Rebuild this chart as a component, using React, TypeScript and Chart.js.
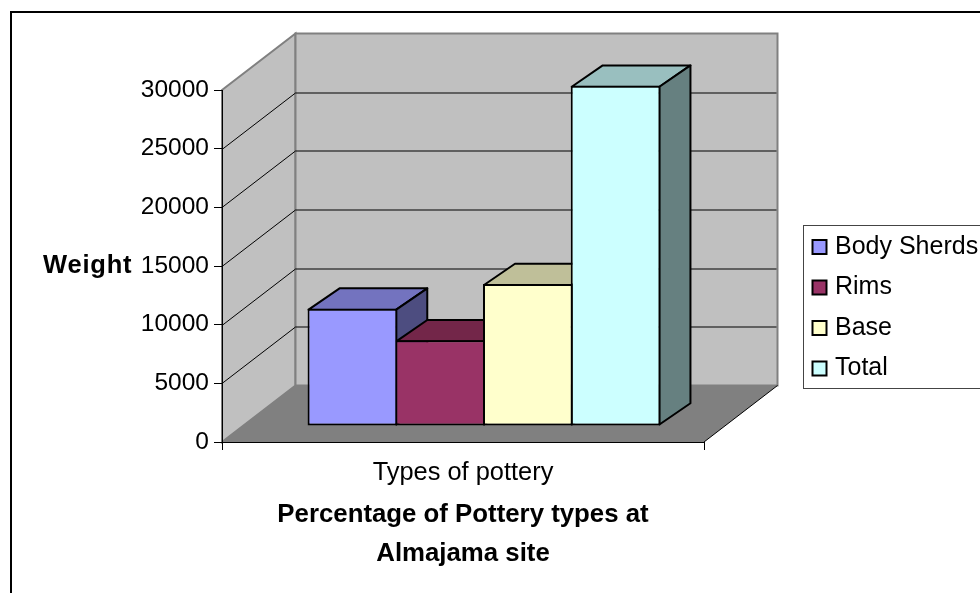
import React, { useEffect, useRef } from "react";
import { Chart, registerables } from "chart.js";

Chart.register(...registerables);

const categories = ["Types of pottery"];
const seriesNames = ["Body Sherds", "Rims", "Base", "Total"];
const bodySherds = [10000];
const rims = [7300];
const base = [12100];
const total = [29000];
const frontColors = ["#9999FF", "#993366", "#FFFFCC", "#CCFFFF"];
const topColors = ["#7373BF", "#732649", "#BFBF99", "#99BFBF"];
const sideColors = ["#4D4D80", "#4D1A33", "#808066", "#668080"];
const titleLines = ["Percentage of Pottery types at", "Almajama site"];
const yTitle = "Weight";

const FONT = "'Liberation Sans', Arial, sans-serif";
const WALL_DX = 73.5;
const WALL_DY = -56.5;
const BAR_DX = 21;
const BAR_DY = -16;
const DEPTH_DX = 31;
const DEPTH_DY = -21.3;

function poly(ctx: CanvasRenderingContext2D, pts: number[][]) {
  ctx.beginPath();
  pts.forEach((p, i) => (i ? ctx.lineTo(p[0], p[1]) : ctx.moveTo(p[0], p[1])));
  ctx.closePath();
}

const pottery3d = {
  id: "pottery3d",
  afterLayout(chart: any) {
    const l = chart.legend;
    l.left = 801;
    l.right = 980;
    l.top = 198;
    l.bottom = 417.5;
  },
  beforeDraw(chart: any) {
    const { ctx, chartArea: a } = chart;
    const yS = chart.scales.y;
    ctx.save();
    ctx.fillStyle = "#FFFFFF";
    ctx.fillRect(0, 0, chart.width, chart.height);
    ctx.strokeStyle = "#000000";
    ctx.lineWidth = 2;
    ctx.strokeRect(11, 12, 1200, 900);

    // walls and floor
    const L = a.left, R = a.right, T = a.top, B = a.bottom;
    ctx.fillStyle = "#C0C0C0";
    ctx.strokeStyle = "#808080";
    ctx.lineWidth = 2;
    poly(ctx, [[L, T], [L + WALL_DX, T + WALL_DY], [L + WALL_DX, B + WALL_DY], [L, B]]);
    ctx.fill();
    ctx.stroke();
    poly(ctx, [[L + WALL_DX, T + WALL_DY], [R + WALL_DX, T + WALL_DY], [R + WALL_DX, B + WALL_DY], [L + WALL_DX, B + WALL_DY]]);
    ctx.fill();
    ctx.stroke();
    ctx.fillStyle = "#808080";
    poly(ctx, [[L, B], [R, B], [R + WALL_DX, B + WALL_DY], [L + WALL_DX, B + WALL_DY]]);
    ctx.fill();

    // grid lines on walls
    ctx.strokeStyle = "#000000";
    ctx.lineWidth = 1;
    yS.ticks.forEach((t: any, i: number) => {
      const y = Math.round(yS.getPixelForTick(i)) + 0.5;
      if (t.value === 0 || t.value === yS.max) return;
      ctx.beginPath();
      ctx.moveTo(L, y);
      ctx.lineTo(L + WALL_DX, y + WALL_DY);
      ctx.lineTo(R + WALL_DX - 1, y + WALL_DY);
      ctx.stroke();
    });
    // floor right diagonal
    ctx.beginPath();
    ctx.moveTo(R, B);
    ctx.lineTo(R + WALL_DX, B + WALL_DY);
    ctx.stroke();

    // legend frame
    ctx.fillStyle = "#FFFFFF";
    ctx.strokeStyle = "#444444";
    ctx.lineWidth = 1;
    ctx.fillRect(803, 225, 300, 163);
    ctx.strokeRect(803.5, 225.5, 300, 163);
    ctx.restore();

    // y axis title
    ctx.save();
    ctx.fillStyle = "#000000";
    ctx.font = `bold 25.5px ${FONT}`;
    ctx.textBaseline = "middle";
    ctx.textAlign = "left";
    (ctx as any).letterSpacing = "0.8px";
    ctx.fillText(yTitle, 43, 266);
    ctx.restore();
  },
  beforeDatasetsDraw(chart: any) {
    const { ctx } = chart;
    ctx.save();
    ctx.strokeStyle = "#000000";
    ctx.lineWidth = 2;
    ctx.lineJoin = "round";
    chart.data.datasets.forEach((_: any, i: number) => {
      const bar = chart.getDatasetMeta(i).data[0];
      const l = bar.x - bar.width / 2 + BAR_DX + 1;
      const r = bar.x + bar.width / 2 + BAR_DX - 1;
      const t = bar.y + BAR_DY + 1;
      const b = bar.base + BAR_DY - 1;
      ctx.fillStyle = topColors[i];
      poly(ctx, [[l, t], [l + DEPTH_DX, t + DEPTH_DY], [r + DEPTH_DX, t + DEPTH_DY], [r, t]]);
      ctx.fill();
      ctx.stroke();
      ctx.fillStyle = sideColors[i];
      poly(ctx, [[r, t], [r + DEPTH_DX, t + DEPTH_DY], [r + DEPTH_DX, b + DEPTH_DY], [r, b]]);
      ctx.fill();
      ctx.stroke();
    });
    ctx.restore();
    ctx.save();
    ctx.translate(BAR_DX, BAR_DY);
  },
  afterDatasetsDraw(chart: any) {
    chart.ctx.restore();
  },
};

export default function App() {
  const ref = useRef<HTMLCanvasElement | null>(null);
  useEffect(() => {
    const values = [bodySherds, rims, base, total];
    const chart: any = new Chart(ref.current as HTMLCanvasElement, {
      type: "bar",
      data: {
        labels: categories,
        datasets: seriesNames.map((name, i) => ({
          label: name,
          data: values[i],
          backgroundColor: frontColors[i],
          borderColor: "#000000",
          borderWidth: 2,
          borderSkipped: false,
          inflateAmount: 0,
          barPercentage: 1.0228,
          categoryPercentage: 0.728,
          clip: false,
        })),
      },
      options: {
        animation: false,
        responsive: false,
        layout: { padding: { left: 0, top: 90, right: 276, bottom: 0 } },
        plugins: {
          title: { display: false },
          tooltip: { enabled: false },
          legend: {
            position: "chartArea",
            align: "center",
            labels: {
              usePointStyle: true,
              pointStyle: "rect",
              boxWidth: 6,
              boxHeight: 14,
              padding: 15.5,
              color: "#000000",
              font: { family: FONT, size: 25 },
            },
          },
        },
        scales: {
          x: {
            afterFit: (s: any) => { s.height = 151; },
            border: { color: "#000000", width: 1 },
            grid: { offset: true, drawOnChartArea: false, drawTicks: true, tickLength: 8, tickColor: "#000000" },
            ticks: { color: "#000000", padding: 8, maxRotation: 0, font: { family: FONT, size: 25.4 } },
            title: {
              display: true,
              text: titleLines,
              color: "#000000",
              padding: { top: 0, bottom: 20 },
              font: { family: FONT, size: 25.8, weight: "bold", lineHeight: 1.51 },
            },
          },
          y: {
            min: 0,
            max: 30000,
            afterFit: (s: any) => { s.width = 222; },
            border: { color: "#000000", width: 1 },
            grid: { drawOnChartArea: false, drawTicks: true, tickLength: 8, tickColor: "#000000" },
            ticks: { stepSize: 5000, color: "#000000", padding: 5, font: { family: FONT, size: 24.5 }, callback: (v: any) => String(v) },
          },
        },
      } as any,
      plugins: [pottery3d],
    } as any);
    return () => chart.destroy();
  }, []);
  return (
    <canvas
      ref={ref}
      width={980}
      height={593}
      style={{ position: "fixed", left: 0, top: 0, width: 980, height: 593, display: "block" }}
    />
  );
}
